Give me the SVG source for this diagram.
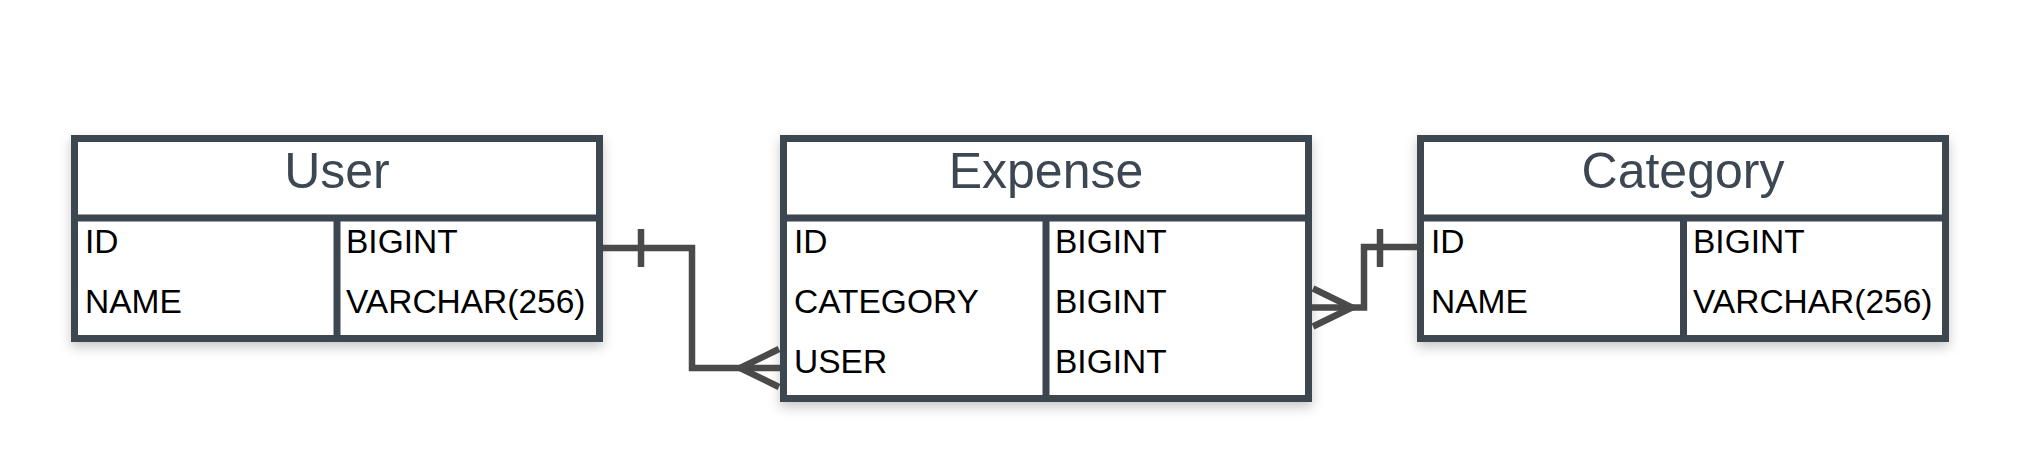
<svg xmlns="http://www.w3.org/2000/svg" width="2034" height="473" viewBox="0 0 2034 473">
  <style>
    .box { fill: #ffffff; stroke: #3d4650; stroke-width: 7; }
    .div { stroke: #3d4650; stroke-width: 7; fill: none; }
    .title { font-family: "Liberation Sans", Arial, sans-serif; font-size: 50px; fill: #3d4752; text-anchor: middle; }
    .cell { font-family: "Liberation Sans", Arial, sans-serif; font-size: 33.5px; fill: #000000; }
    .conn { stroke: #4a4a4a; stroke-width: 6.5; fill: none; }
  </style>
  <defs>
    <filter id="shadow" x="-10%" y="-20%" width="120%" height="150%">
      <feDropShadow dx="0" dy="5" stdDeviation="6" flood-color="#000000" flood-opacity="0.22"/>
    </filter>
  </defs>
  <rect width="2034" height="473" fill="#ffffff"/>

  <g id="user">
    <rect class="box" x="74.5" y="138.5" width="525" height="200" filter="url(#shadow)"/>
    <line class="div" x1="74.5" y1="218" x2="599.5" y2="218"/>
    <line class="div" x1="337" y1="218" x2="337" y2="338.5"/>
    <text class="title" x="337" y="188">User</text>
    <text class="cell" x="85" y="253">ID</text>
    <text class="cell" x="85" y="313">NAME</text>
    <text class="cell" x="346" y="253">BIGINT</text>
    <text class="cell" x="346" y="313">VARCHAR(256)</text>
  </g>

  <g id="expense">
    <rect class="box" x="783.5" y="138.5" width="525" height="260" filter="url(#shadow)"/>
    <line class="div" x1="783.5" y1="218" x2="1308.5" y2="218"/>
    <line class="div" x1="1046" y1="218" x2="1046" y2="398.5"/>
    <text class="title" x="1046" y="188">Expense</text>
    <text class="cell" x="794" y="253">ID</text>
    <text class="cell" x="794" y="313">CATEGORY</text>
    <text class="cell" x="794" y="373">USER</text>
    <text class="cell" x="1055" y="253">BIGINT</text>
    <text class="cell" x="1055" y="313">BIGINT</text>
    <text class="cell" x="1055" y="373">BIGINT</text>
  </g>

  <g id="category">
    <rect class="box" x="1420.5" y="138.5" width="525" height="200" filter="url(#shadow)"/>
    <line class="div" x1="1420.5" y1="218" x2="1945.5" y2="218"/>
    <line class="div" x1="1683.5" y1="218" x2="1683.5" y2="338.5"/>
    <text class="title" x="1683" y="188">Category</text>
    <text class="cell" x="1431" y="253">ID</text>
    <text class="cell" x="1431" y="313">NAME</text>
    <text class="cell" x="1693" y="253">BIGINT</text>
    <text class="cell" x="1693" y="313">VARCHAR(256)</text>
  </g>

  <g id="connectors">
    <polyline class="conn" points="603,248 692,248 692,368 780,368"/>
    <line class="conn" x1="641" y1="229" x2="641" y2="267"/>
    <polyline class="conn" points="779,349 740,368 779,387"/>
    <polyline class="conn" points="1417,247 1364,247 1364,307.5 1312,307.5"/>
    <line class="conn" x1="1380" y1="229" x2="1380" y2="267"/>
    <polyline class="conn" points="1313,288.5 1352,307.5 1313,326.5"/>
  </g>
</svg>
